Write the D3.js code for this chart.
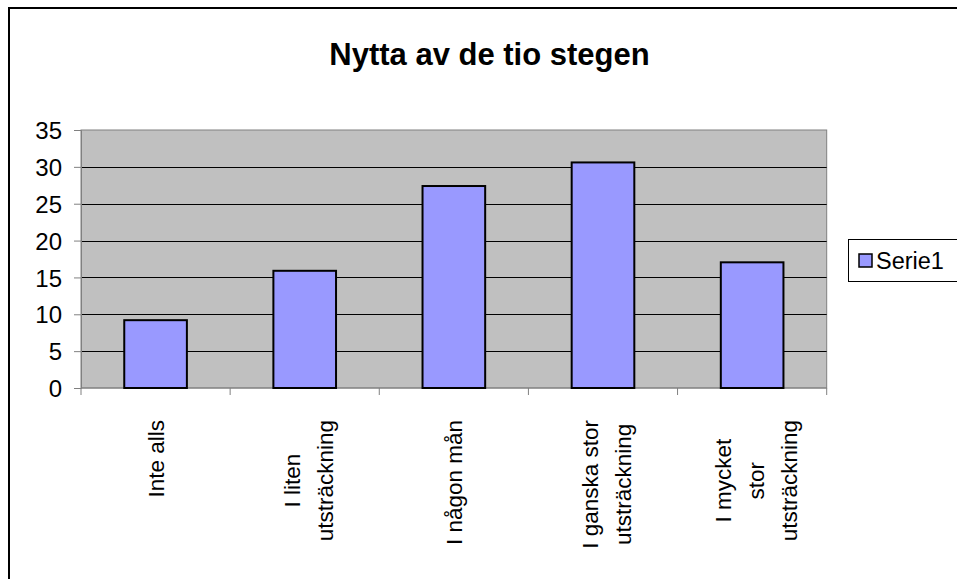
<!DOCTYPE html>
<html><head><meta charset="utf-8">
<script src="https://cdn.jsdelivr.net/npm/d3@7"></script>
<style>body{margin:0;background:#fff}svg{display:block;font-family:Arial,"Liberation Sans",sans-serif}</style>
</head><body>
<svg id="c" width="957" height="579"></svg>
<script>
const categories = [["Inte alls"],["I liten","utsträckning"],["I någon mån"],["I ganska stor","utsträckning"],["I mycket","stor","utsträckning"]];
const values = [9.2, 15.9, 27.4, 30.6, 17.05];
const yTicks = [0,5,10,15,20,25,30,35];
const seriesName = "Serie1";
const title = "Nytta av de tio stegen";

const svg = d3.select("#c");
const m = {l:81, r:826.7, t:130, b:388};
const keys = categories.map((c,i)=>i);
const x = d3.scaleBand().domain(keys).range([m.l,m.r]).paddingInner(0.58).paddingOuter(0.29);
const xb = d3.scaleBand().domain(keys).range([m.l,m.r]);
const y = d3.scaleLinear().domain([0,35]).range([m.b,m.t]);

// chart border
svg.append("rect").attr("x",9).attr("y",8).attr("width",1200).attr("height",1200)
  .attr("fill","none").attr("stroke","#000").attr("stroke-width",2);

// title
svg.append("text").attr("x",489.5).attr("y",65).attr("text-anchor","middle")
  .attr("font-weight","bold").attr("font-size",31).text(title);

// plot bg
svg.append("rect").attr("x",m.l).attr("y",m.t).attr("width",m.r-m.l).attr("height",m.b-m.t)
  .attr("fill","#c0c0c0").attr("stroke","#808080").attr("stroke-width",1);

// gridlines
svg.append("g").selectAll("line").data(yTicks.filter(d=>d>0&&d<35)).join("line")
  .attr("x1",m.l).attr("x2",m.r).attr("y1",d=>Math.round(y(d))+0.5).attr("y2",d=>Math.round(y(d))+0.5)
  .attr("stroke","#000").attr("stroke-width",1);

// y axis
const ya = svg.append("g").attr("transform",`translate(${m.l},0)`)
  .call(d3.axisLeft(y).tickValues(yTicks).tickSize(7).tickPadding(12));
ya.select(".domain").attr("stroke","#808080");
ya.selectAll(".tick line").attr("stroke","#808080");
ya.selectAll("text").attr("font-size",24).attr("fill","#000").attr("font-family","Arial, Liberation Sans, sans-serif").attr("dy","0.36em");

// x axis ticks at boundaries
const bounds = d3.range(keys.length+1).map(i=> i<keys.length ? xb(i) : m.r);
svg.append("g").selectAll("line").data(bounds).join("line")
  .attr("x1",d=>d).attr("x2",d=>d).attr("y1",m.b).attr("y2",m.b+7).attr("stroke","#808080");
svg.append("line").attr("x1",m.l).attr("x2",m.r).attr("y1",m.b).attr("y2",m.b).attr("stroke","#808080");

// bars
svg.append("g").selectAll("rect").data(values).join("rect")
  .attr("x",(d,i)=>x(i)).attr("width",x.bandwidth())
  .attr("y",d=>y(d)).attr("height",d=>y(0)-y(d))
  .attr("fill","#9999ff").attr("stroke","#000").attr("stroke-width",2);

// category labels (rotated, lines centered, block top aligned)
const lh = 33, topY = 420;
categories.forEach((lines,i)=>{
  const cx = xb(i)+xb.bandwidth()/2;
  const g = svg.append("g");
  const n = lines.length;
  const ts = lines.map((s,j)=> g.append("text").attr("font-size",22.5).attr("text-anchor","middle").text(s));
  const L = d3.max(ts.map(t=>t.node().getComputedTextLength()));
  ts.forEach((t,j)=>{
    const px = cx + (j-(n-1)/2)*lh + 8 + (n>1?4:0);
    const py = topY + L/2;
    t.attr("transform",`translate(${px},${py}) rotate(-90)`);
  });
});

// legend
svg.append("rect").attr("x",848.5).attr("y",239.5).attr("width",120).attr("height",42)
  .attr("fill","#fff").attr("stroke","#000").attr("stroke-width",1);
svg.append("rect").attr("x",859).attr("y",254).attr("width",13).attr("height",13)
  .attr("fill","#9999ff").attr("stroke","#000").attr("stroke-width",1.5);
svg.append("text").attr("x",876).attr("y",269).attr("font-size",23.5).text(seriesName);
</script>
</body></html>
